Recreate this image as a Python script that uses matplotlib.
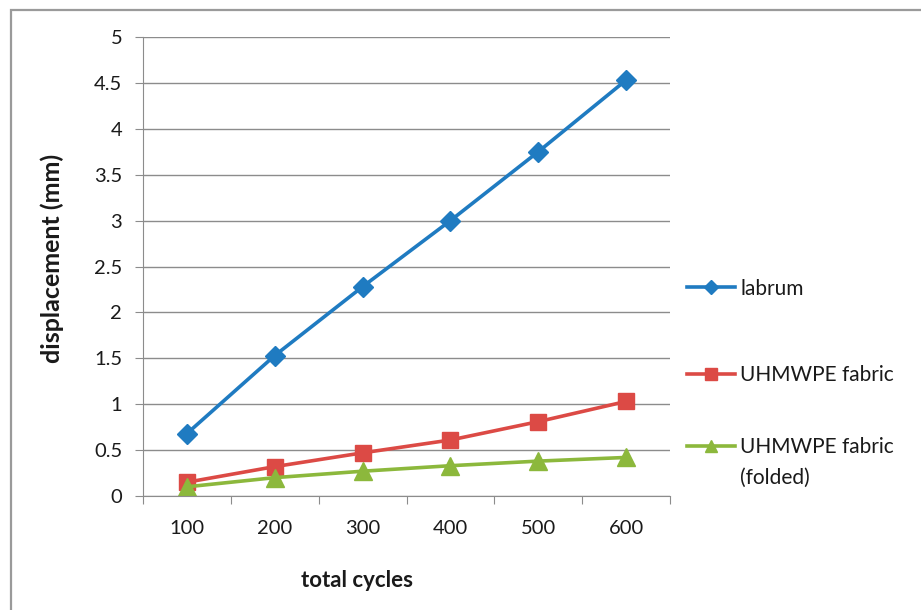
import matplotlib
matplotlib.use("Agg")
import matplotlib.pyplot as plt
from matplotlib.patches import Rectangle

cycles = ["100", "200", "300", "400", "500", "600"]
labrum = [0.68, 1.53, 2.28, 3.00, 3.75, 4.53]
fabric = [0.15, 0.32, 0.47, 0.61, 0.81, 1.03]
folded = [0.10, 0.20, 0.27, 0.33, 0.38, 0.42]

BLUE = "#1f7bc1"
RED = "#dc4a45"
GREEN = "#8cb83c"
GRID = "#8c8c8c"
INK = "#1a1a1a"

plt.rcParams["font.family"] = ["Lato", "DejaVu Sans"]

fig = plt.figure(figsize=(9.21, 6.1), dpi=100)
fig.patch.set_facecolor("white")
# outer chart border (right/bottom sides fall off the picture)
fig.patches.append(Rectangle((11 / 921, -0.1), 1.2, 1 - 10 / 610 + 0.1,
                             transform=fig.transFigure, fill=False,
                             edgecolor="#9a9a9a", lw=1.6))

ax = fig.add_axes([143 / 921, 114 / 610, 527 / 921, 459 / 610])
x = list(range(len(cycles)))

l1, = ax.plot(x, labrum, "-D", color=BLUE, lw=2.6, ms=10, label="labrum")
l2, = ax.plot(x, fabric, "-s", color=RED, lw=2.6, ms=12, label="UHMWPE fabric")
l3, = ax.plot(x, folded, "-^", color=GREEN, lw=2.6, ms=13, label="UHMWPE fabric")

ax.set_xlim(-0.5, len(cycles) - 0.5)
ax.set_ylim(0, 5)
ax.set_yticks([i * 0.5 for i in range(11)])
ax.set_yticklabels(["0", "0.5", "1", "1.5", "2", "2.5", "3", "3.5", "4", "4.5", "5"])
ax.yaxis.grid(True, color=GRID, lw=1)
ax.set_axisbelow(True)

# category ticks between groups, labels at the centres
ax.set_xticks([i - 0.5 for i in range(len(cycles) + 1)])
ax.set_xticklabels([])
ax.set_xticks(x, minor=True)
ax.set_xticklabels(cycles, minor=True)
ax.tick_params(axis="x", which="major", length=6, color=GRID, direction="out")
ax.tick_params(axis="x", which="minor", length=0, pad=17, labelsize=14.5,
               labelcolor=INK)
ax.tick_params(axis="y", length=6, color=GRID, labelsize=14.5,
               labelcolor=INK, pad=9)

for s in ("top", "right"):
    ax.spines[s].set_visible(False)
for s in ("left", "bottom"):
    ax.spines[s].set_color(GRID)

ax.set_xlabel("total cycles", fontsize=16, weight="bold", color=INK)
ax.xaxis.set_label_coords(0.406, -0.161)
ax.set_ylabel("displacement (mm)", fontsize=18, weight="bold", color=INK)
ax.yaxis.set_label_coords(-0.15, 0.518)

leg_kw = dict(loc="center left", frameon=False, fontsize=15, handlelength=2.3,
              handletextpad=0.25, borderpad=0, borderaxespad=0,
              markerscale=0.7, bbox_transform=fig.transFigure)
leg1 = ax.legend(handles=[l1, l2], labelspacing=3.2,
                 bbox_to_anchor=(687 / 921, 1 - 332 / 610), **leg_kw)
ax.add_artist(leg1)
leg2 = ax.legend(handles=[l3], bbox_to_anchor=(687 / 921, 1 - 447 / 610), **leg_kw)
for lg in (leg1, leg2):
    for t in lg.get_texts():
        t.set_color(INK)
# second line of the third legend entry, hung under its label
ax.annotate("(folded)", xy=(0, 0), xycoords=leg2.get_texts()[0],
            xytext=(0, -8), textcoords="offset points", ha="left", va="top",
            fontsize=15, color=INK, zorder=20, annotation_clip=False)

fig.savefig("out.png", dpi=100, facecolor="white")
